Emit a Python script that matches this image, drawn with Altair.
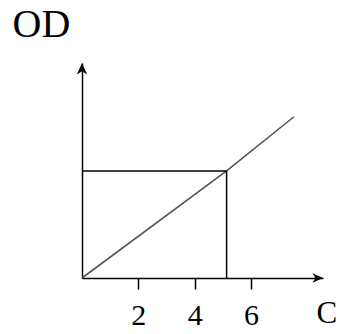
import altair as alt
import pandas as pd

# Data
line_x = [0, 5.13, 7.52]
line_y = [0, 4.98, 7.5]
corner_x = 5.13
corner_y = 4.98
x_ticks = [2, 4, 6]
x_max = 8.55
y_max = 10

line_df = pd.DataFrame({"x": line_x, "y": line_y})
hrule_df = pd.DataFrame({"x": [0], "x2": [corner_x], "y": [corner_y]})
vrule_df = pd.DataFrame({"x": [corner_x], "y": [0], "y2": [corner_y]})
xarrow_df = pd.DataFrame({"x": [x_max], "y": [0]})
yarrow_df = pd.DataFrame({"x": [0], "y": [y_max]})

FONT = "Liberation Serif"

xscale = alt.Scale(domain=[0, x_max], nice=False, zero=True)
yscale = alt.Scale(domain=[0, y_max], nice=False, zero=True)

xaxis = alt.Axis(
    values=x_ticks, grid=False, domain=True, domainColor="black", domainWidth=1.5,
    ticks=True, tickSize=11, tickWidth=1.5, tickColor="black",
    labelFont=FONT, labelFontSize=30, labelColor="black",
    labelBaseline="alphabetic", labelPadding=35, labelFlush=False,
    title="C", titleFont=FONT, titleFontSize=31, titleFontWeight="normal",
    titleColor="black", titleAlign="left", titleBaseline="alphabetic",
    titleX=234, titleY=44, titleAnchor="start",
)
yaxis = alt.Axis(
    grid=False, domain=True, domainColor="black", domainWidth=1.5,
    ticks=False, labels=False,
    title="OD", titleFont=FONT, titleFontSize=40, titleFontWeight="normal",
    titleColor="black", titleAngle=0, titleAlign="left", titleBaseline="alphabetic",
    titleX=-70, titleY=-27, titleAnchor="start",
)

diag = alt.Chart(line_df).mark_line(color="#555555", strokeWidth=1.6).encode(
    x=alt.X("x:Q", scale=xscale, axis=xaxis),
    y=alt.Y("y:Q", scale=yscale, axis=yaxis),
)
hrule = alt.Chart(hrule_df).mark_rule(color="black", strokeWidth=1.5).encode(
    x="x:Q", x2="x2:Q", y="y:Q"
)
vrule = alt.Chart(vrule_df).mark_rule(color="black", strokeWidth=1.5).encode(
    x="x:Q", y="y:Q", y2="y2:Q"
)
xarrow = alt.Chart(xarrow_df).mark_point(
    shape="M0,0 L-1,-0.45 L-0.72,0 L-1,0.45 Z", size=440, filled=True,
    color="black", opacity=1,
).encode(x="x:Q", y="y:Q")
yarrow = alt.Chart(yarrow_df).mark_point(
    shape="M0,0 L-0.45,1 L0,0.72 L0.45,1 Z", size=520, filled=True,
    color="black", opacity=1,
).encode(x="x:Q", y="y:Q")

chart = alt.layer(diag, hrule, vrule, xarrow, yarrow).properties(
    width=241, height=215,
    background="white",
    autosize=alt.AutoSizeParams(type="none"),
    padding={"left": 74, "top": 55, "right": 19, "bottom": 48},
).configure_view(strokeWidth=0)

chart.save("out.html", embed_options={"renderer": "svg", "actions": False})
